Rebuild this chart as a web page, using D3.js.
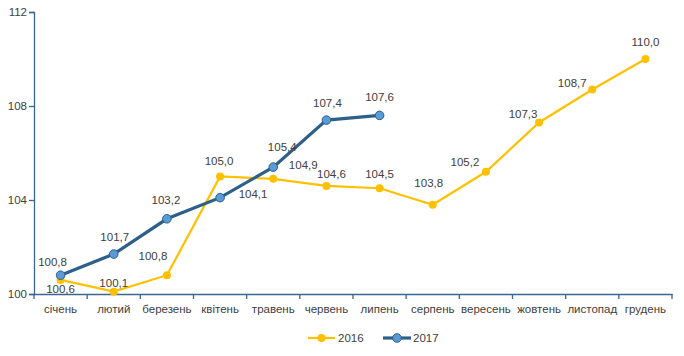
<!DOCTYPE html>
<html><head><meta charset="utf-8">
<script src="https://cdn.jsdelivr.net/npm/d3@7"></script>
<style>body{margin:0;background:#fff}svg{display:block}text{font-family:"Liberation Sans",Arial,sans-serif}</style>
</head><body><svg id="c" width="684" height="356"></svg>
<script>
const months = ["січень","лютий","березень","квітень","травень","червень","липень","серпень","вересень","жовтень","листопад","грудень"];
const values2016 = [100.6,100.1,100.8,105.0,104.9,104.6,104.5,103.8,105.2,107.3,108.7,110.0];
const values2017 = [100.8,101.7,103.2,104.1,105.4,107.4,107.6];
const yTicks = [100,104,108,112];
// label offsets (dx, dy) relative to point
const off2016 = [[0,9],[0,-9],[-14,-19],[-1,-16],[30,-14],[5,-12],[0,-14],[-4,-22],[-21,-10],[-16,-8],[-20,-7],[0,-17]];
const off2017 = [[-8,-13],[1,-17],[-1,-19],[33,-4],[9,-20],[1,-17],[0,-18]];

const svg = d3.select("#c");
const x = d3.scaleBand().domain(months).range([34,672]);
const y = d3.scaleLinear().domain([100,112]).range([294,12]);
const axisCol = "#3a6690";
const c16 = "#FFC000", c17 = "#2D5F8B", f17 = "#5B9BD5";

const yAxis = svg.append("g").attr("transform","translate(34,0)")
  .call(d3.axisLeft(y).tickValues(yTicks).tickSize(5).tickFormat(d3.format("d")));
yAxis.select(".domain").attr("stroke",axisCol).attr("stroke-width",1.3);
yAxis.selectAll(".tick line").attr("stroke",axisCol).attr("stroke-width",1.3);
yAxis.selectAll(".tick text").attr("fill","#404040").attr("font-size",11.5).attr("x",-7);

const xAxis = svg.append("g").attr("transform","translate(0,294)")
  .call(d3.axisBottom(x).tickSize(0).tickSizeOuter(0));
xAxis.select(".domain").attr("stroke",axisCol).attr("stroke-width",1.3);
xAxis.selectAll(".tick text").attr("fill","#404040").attr("font-size",11.5).attr("dy",0).attr("y",19);
// band boundary ticks
const bounds = months.map(m=>x(m)).concat([x.range()[1]]);
xAxis.selectAll(".bt").data(bounds).join("line").attr("class","bt")
  .attr("x1",d=>d).attr("x2",d=>d).attr("y1",0).attr("y2",5)
  .attr("stroke",axisCol).attr("stroke-width",1.3);

const cx = (i)=>x(months[i])+x.bandwidth()/2;
const line = d3.line().x((d,i)=>cx(i)).y(d=>y(d));

// 2016
svg.append("path").datum(values2016).attr("d",line).attr("fill","none").attr("stroke",c16).attr("stroke-width",2.2);
svg.selectAll(".p16").data(values2016).join("circle").attr("class","p16")
  .attr("cx",(d,i)=>cx(i)).attr("cy",d=>y(d)).attr("r",4).attr("fill",c16);
// 2017
svg.append("path").datum(values2017).attr("d",line).attr("fill","none").attr("stroke",c17).attr("stroke-width",3.2);
svg.selectAll(".p17").data(values2017).join("circle").attr("class","p17")
  .attr("cx",(d,i)=>cx(i)).attr("cy",d=>y(d)).attr("r",4.3).attr("fill",f17).attr("stroke",c17).attr("stroke-width",1);

const fmt = d=>d.toFixed(1).replace(".",",");
svg.selectAll(".l16").data(values2016).join("text").attr("class","l16")
  .attr("x",(d,i)=>cx(i)+off2016[i][0]).attr("y",(d,i)=>y(d)+off2016[i][1]+4)
  .attr("text-anchor","middle").attr("font-size",11.5).attr("fill","#404040").text(fmt);
svg.selectAll(".l17").data(values2017).join("text").attr("class","l17")
  .attr("x",(d,i)=>cx(i)+off2017[i][0]).attr("y",(d,i)=>y(d)+off2017[i][1]+4)
  .attr("text-anchor","middle").attr("font-size",11.5).attr("fill","#404040").text(fmt);

// legend
const lg = svg.append("g");
lg.append("line").attr("x1",308).attr("x2",335).attr("y1",338).attr("y2",338).attr("stroke",c16).attr("stroke-width",2.2);
lg.append("circle").attr("cx",321.5).attr("cy",338).attr("r",4).attr("fill",c16);
lg.append("text").attr("x",338).attr("y",342).attr("font-size",11.5).attr("fill","#404040").text("2016");
lg.append("line").attr("x1",383).attr("x2",411).attr("y1",338).attr("y2",338).attr("stroke",c17).attr("stroke-width",3.2);
lg.append("circle").attr("cx",397).attr("cy",338).attr("r",4.3).attr("fill",f17).attr("stroke",c17);
lg.append("text").attr("x",413).attr("y",342).attr("font-size",11.5).attr("fill","#404040").text("2017");
</script></body></html>
